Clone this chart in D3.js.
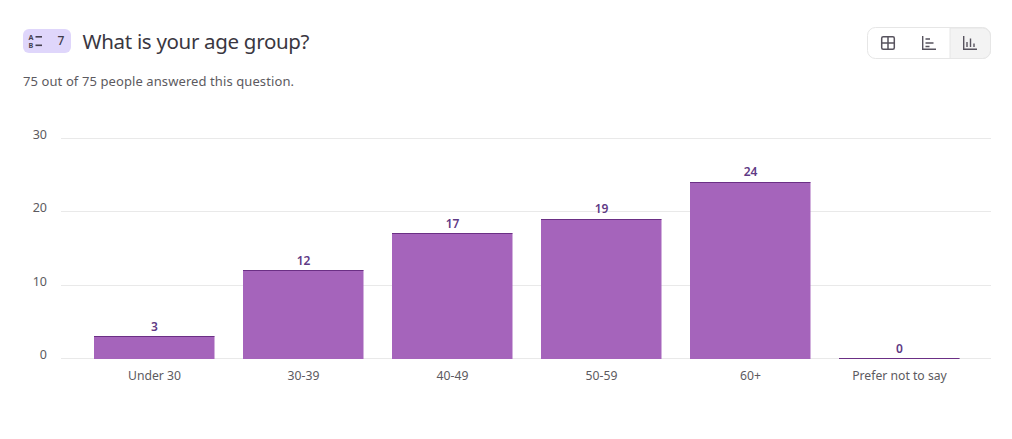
<!DOCTYPE html>
<html><head><meta charset="utf-8">
<script src="https://cdn.jsdelivr.net/npm/d3@7/dist/d3.min.js"></script>
<style>html,body{margin:0;padding:0;background:#fff}svg{display:block}text{font-family:"Noto Sans","Open Sans",sans-serif}</style>
</head><body><svg id="c" width="1012" height="439"></svg>
<script>
const categories=["Under 30","30-39","40-49","50-59","60+","Prefer not to say"];
const counts=[3,12,17,19,24,0];
const yTicks=[0,10,20,30];
const title="What is your age group?";
const subtitle="75 out of 75 people answered this question.";
const questionNumber="7";

const svg=d3.select("#c");
const x=d3.scaleBand().domain(categories).range([80,974]).paddingInner(28/149).paddingOuter(14/149);
const y=d3.scaleLinear().domain([0,30]).range([358.7,138.2]);
const crisp=v=>Math.floor(v)+.5;
const grid="#e9e9e9", txt="#5c5a60", fill="#a564bb", edge="#6b2f85";

// header
svg.append("rect").attr("x",23).attr("y",29).attr("width",48).attr("height",24).attr("rx",6).attr("fill","#dfd6fb");
const ic=svg.append("g").attr("fill","#45404f");
ic.append("text").attr("x",31).attr("y",39.5).attr("text-anchor","middle").attr("font-size",7.2).attr("font-weight",700).attr("font-family",'"Liberation Sans"').text("A");
ic.append("text").attr("x",31).attr("y",48).attr("text-anchor","middle").attr("font-size",7.2).attr("font-weight",700).attr("font-family",'"Liberation Sans"').text("B");
ic.append("rect").attr("x",35.5).attr("y",36).attr("width",6.5).attr("height",1.6);
ic.append("rect").attr("x",35.5).attr("y",44.5).attr("width",6.5).attr("height",1.6);
svg.append("text").attr("x",61).attr("y",45).attr("text-anchor","middle").attr("font-size",12).attr("font-weight",500).attr("fill","#3e3a48").text(questionNumber);
svg.append("text").attr("x",82.5).attr("y",49).attr("font-size",20.5).attr("fill","#3a3741").attr("textLength",227).text(title);
svg.append("text").attr("x",23).attr("y",86).attr("font-size",13).attr("fill",txt).attr("textLength",271).text(subtitle);

// view switcher
svg.append("rect").attr("x",867.5).attr("y",27.5).attr("width",123).attr("height",31).attr("rx",8).attr("fill","#fff").attr("stroke","#e6e6e6");
svg.append("path").attr("d","M950 28H982.5A8 8 0 0 1 990.5 36V50.5A8 8 0 0 1 982.5 58.5H950Z").attr("fill","#f3f3f3").attr("stroke","#e6e6e6");
const ig=svg.append("g").attr("fill","none").attr("stroke","#57535e").attr("stroke-width",1.5);
ig.append("rect").attr("x",881.7).attr("y",36.7).attr("width",12.6).attr("height",12.6).attr("rx",1.5);
ig.append("path").attr("d","M888 36.7V49.3M881.7 43H894.3");
ig.append("path").attr("d","M922.7 36V49.3H936M925.5 39H930M925.5 43H933.5M925.5 46.5H929.5").attr("stroke-width",1.4);
ig.append("path").attr("d","M963.7 36V49.3H977M967 47V42M970.5 47V38.5M974 47V43.5").attr("stroke-width",1.4);

// grid
svg.append("g").selectAll("line").data(yTicks).join("line")
 .attr("x1",61).attr("x2",991).attr("y1",d=>crisp(y(d))).attr("y2",d=>crisp(y(d))).attr("stroke",grid);

// y axis
const ya=svg.append("g").attr("transform","translate(47,2.5)").call(d3.axisLeft(y).tickValues(yTicks).tickSize(0).tickPadding(0));
ya.select(".domain").remove();
ya.selectAll("text").attr("font-size",12.5).attr("fill",txt).attr("dy","-0.18em").attr("font-family",'"Noto Sans"');

// x axis
const xa=svg.append("g").attr("transform","translate(0,361)").call(d3.axisBottom(x).tickSize(0).tickPadding(10));
xa.select(".domain").remove();
xa.selectAll("text").attr("font-size",12.2).attr("fill",txt).attr("font-family",'"Noto Sans"');

// bars
const bh=d=>Math.max(0,359-crisp(y(d)));
svg.append("g").selectAll("rect").data(counts).join("rect")
 .attr("x",(d,i)=>x(categories[i])).attr("width",x.bandwidth()-.5).attr("y",d=>crisp(y(d))).attr("height",bh).attr("fill",fill);
svg.append("g").selectAll("line").data(counts).join("line")
 .attr("x1",(d,i)=>x(categories[i])).attr("x2",(d,i)=>x(categories[i])+x.bandwidth()-.5)
 .attr("y1",d=>crisp(y(d))).attr("y2",d=>crisp(y(d))).attr("stroke",edge).attr("stroke-width",1);
svg.append("g").selectAll("text").data(counts).join("text")
 .attr("x",(d,i)=>x(categories[i])+x.bandwidth()/2).attr("y",d=>y(d)-6).attr("text-anchor","middle")
 .attr("font-size",12).attr("font-weight",600).attr("fill","#5f3a85").text(d=>d);
</script></body></html>
